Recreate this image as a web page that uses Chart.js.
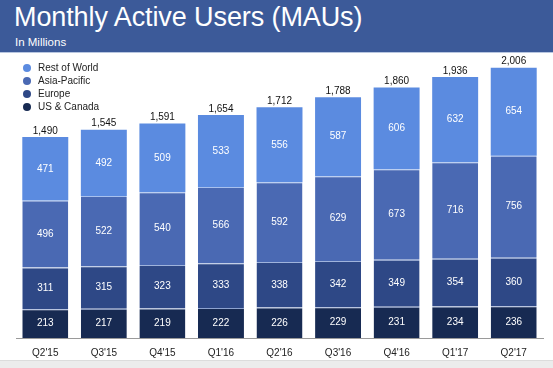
<!DOCTYPE html>
<html>
<head>
<meta charset="utf-8">
<script src="https://cdn.jsdelivr.net/npm/chart.js@4.4.0/dist/chart.umd.min.js"></script>
<style>
  html, body { margin: 0; padding: 0; background: #fff; }
  #wrap { position: relative; width: 553px; height: 368px; overflow: hidden; font-family: "Liberation Sans", Arial, sans-serif; }
  #header { position: absolute; left: 0; top: 0; width: 553px; height: 52px; background: #3c5a99; border-bottom: 1px solid #b8c6e0; z-index: 2; }
  #header h1 { margin: 0; position: absolute; left: 14px; top: 2px; font-weight: normal; font-size: 27px; color: #fff; letter-spacing: -0.1px; }
  #header h2 { margin: 0; position: absolute; left: 15px; top: 36px; font-weight: normal; font-size: 11.5px; color: #fff; }
  #footer { position: absolute; left: 0; top: 360px; width: 553px; height: 8px; background: #ececec; border-top: 1px solid #dcdcdc; }
  #chart { position: absolute; left: 0; top: 0; z-index: 1; }
  #legend { position: absolute; left: 23px; top: 61px; z-index: 3; font-size: 10px; color: #222; }
  #legend div { height: 12.9px; line-height: 13px; white-space: nowrap; }
  #legend span { display: inline-block; width: 8px; height: 8px; border-radius: 50%; margin-right: 7px; vertical-align: -1px; }
</style>
</head>
<body>
<div id="wrap">
  <div id="footer"></div>
  <canvas id="chart" width="553" height="368"></canvas>
  <div id="header">
    <h1>Monthly Active Users (MAUs)</h1>
    <h2>In Millions</h2>
  </div>
  <div id="legend"></div>
</div>
<script>
const quarters = ["Q2'15", "Q3'15", "Q4'15", "Q1'16", "Q2'16", "Q3'16", "Q4'16", "Q1'17", "Q2'17"];
const usCanada = [213, 217, 219, 222, 226, 229, 231, 234, 236];
const europe = [311, 315, 323, 333, 338, 342, 349, 354, 360];
const asiaPacific = [496, 522, 540, 566, 592, 629, 673, 716, 756];
const restOfWorld = [471, 492, 509, 533, 556, 587, 606, 632, 654];
const totals = [1490, 1545, 1591, 1654, 1712, 1788, 1860, 1936, 2006];

const segBorder = { top: 1, left: 0, right: 0, bottom: 0 };

// white numbers inside segments, black totals on top
const valueLabels = {
    id: 'valueLabels',
    afterDatasetsDraw(chart) {
        const ctx = chart.ctx;
        ctx.save();
        ctx.textAlign = 'center';
        ctx.textBaseline = 'middle';
        ctx.font = '10px "Liberation Sans", Arial, sans-serif';
        ctx.fillStyle = '#ffffff';
        chart.data.datasets.forEach((ds, i) => {
            chart.getDatasetMeta(i).data.forEach((bar, j) => {
                ctx.fillText(String(ds.data[j]), bar.x, (bar.y + bar.base) / 2);
            });
        });
        const top = chart.getDatasetMeta(chart.data.datasets.length - 1).data;
        ctx.fillStyle = '#111111';
        ctx.textBaseline = 'bottom';
        top.forEach((bar, j) => {
            ctx.fillText(totals[j].toLocaleString('en-US'), bar.x, bar.y - 1);
        });
        ctx.restore();
    }
};

const chart = new Chart(document.getElementById('chart').getContext('2d'), {
    type: 'bar',
    data: {
        labels: quarters,
        datasets: [
            { label: 'US & Canada', data: usCanada, backgroundColor: '#172a52', borderColor: '#8ea3cf', borderWidth: segBorder },
            { label: 'Europe', data: europe, backgroundColor: '#2e4886', borderColor: '#9fb3dc', borderWidth: segBorder },
            { label: 'Asia-Pacific', data: asiaPacific, backgroundColor: '#4a69b3', borderColor: '#a9c1ee', borderWidth: segBorder },
            { label: 'Rest of World', data: restOfWorld, backgroundColor: '#5b8be0', borderWidth: 0 }
        ]
    },
    options: {
        responsive: false,
        animation: false,
        categoryPercentage: 1,
        barPercentage: 0.785,
        layout: { padding: { top: 55, left: 16, right: 10, bottom: 0 } },
        scales: {
            x: {
                stacked: true,
                grid: { display: false, drawTicks: false },
                border: { display: true, color: '#9a9a9a', width: 1 },
                ticks: { color: '#222', padding: 9, font: { size: 10, family: '"Liberation Sans", Arial, sans-serif' } }
            },
            y: {
                stacked: true,
                display: false,
                min: 0,
                max: 2100
            }
        },
        plugins: {
            legend: { display: false },
            tooltip: { enabled: false }
        }
    },
    plugins: [valueLabels]
});

// legend, top item = top of stack
const legendEl = document.getElementById('legend');
chart.data.datasets.slice().reverse().forEach(ds => {
    const row = document.createElement('div');
    const dot = document.createElement('span');
    dot.style.background = ds.backgroundColor;
    row.appendChild(dot);
    row.appendChild(document.createTextNode(ds.label));
    legendEl.appendChild(row);
});
</script>
</body>
</html>
